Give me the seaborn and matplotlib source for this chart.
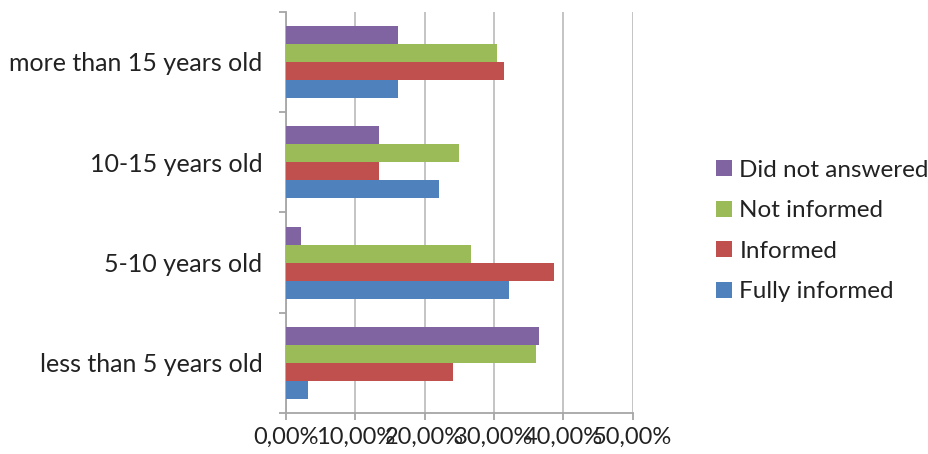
import numpy as np
import pandas as pd
import matplotlib
matplotlib.use("Agg")
import matplotlib.pyplot as plt
import seaborn as sns
from matplotlib.ticker import FixedLocator, FuncFormatter

# 데이터 (그림에서 읽은 값, %)
age_groups = ["more than 15 years old", "10-15 years old", "5-10 years old", "less than 5 years old"]
answers = ["Did not answered", "Not informed", "Informed", "Fully informed"]
did_not_answered = [16.1, 13.4, 2.2, 36.5]
not_informed = [30.4, 25.0, 26.7, 36.0]
informed = [31.4, 13.4, 38.6, 24.1]
fully_informed = [16.1, 22.1, 32.2, 3.2]
x_ticks = [0, 10, 20, 30, 40, 50]

colors = ["#8064A2", "#9BBB59", "#C0504D", "#4F81BD"]

rows = []
for name, vals in zip(answers, [did_not_answered, not_informed, informed, fully_informed]):
    for g, v in zip(age_groups, vals):
        rows.append({"group": g, "answer": name, "value": v})
df = pd.DataFrame(rows)

sns.set_style("white")
plt.rcParams["font.family"] = ["Lato", "DejaVu Sans"]

fig = plt.figure(figsize=(9.29, 4.54), dpi=100)
ax = fig.add_axes([0.308, 0.090, 0.373, 0.884])

sns.barplot(data=df, x="value", y="group", hue="answer", order=age_groups,
            hue_order=answers, palette=colors, orient="h", width=0.72,
            saturation=1, ax=ax, edgecolor="none", zorder=3)

ax.set_xlim(0, 50)
ax.set_ylim(3.5, -0.5)
ax.xaxis.set_major_locator(FixedLocator(x_ticks))
ax.xaxis.set_major_formatter(FuncFormatter(lambda v, p: f"{v:.2f}%".replace(".", ",")))
ax.grid(axis="x", color="#BFBFBF", linewidth=1.3, zorder=0)
ax.set_xlabel("")
ax.set_ylabel("")

# y축 눈금은 범주 경계에만
ax.yaxis.set_minor_locator(FixedLocator([-0.5, 0.5, 1.5, 2.5, 3.5]))
ax.tick_params(axis="y", which="major", length=0, labelsize=18, pad=17, colors="#222222")
ax.tick_params(axis="y", which="minor", length=5, width=1.3, color="#A6A6A6", direction="out", left=True)
ax.tick_params(axis="x", which="major", length=5, width=1.3, color="#A6A6A6", direction="out",
               bottom=True, labelsize=17, pad=5, labelcolor="#222222")

for s in ["top", "right"]:
    ax.spines[s].set_visible(False)
for s in ["left", "bottom"]:
    ax.spines[s].set_color("#A6A6A6")
    ax.spines[s].set_linewidth(1.3)

handles, labels = ax.get_legend_handles_labels()
ax.legend(handles, labels, loc="center left", bbox_to_anchor=(0.771, 0.491),
          bbox_transform=fig.transFigure, frameon=False, fontsize=17.5,
          handlelength=0.65, handleheight=0.65, handletextpad=0.3, labelspacing=0.8,
          borderaxespad=0, borderpad=0, labelcolor="#222222")

fig.savefig("out.png", dpi=100)
